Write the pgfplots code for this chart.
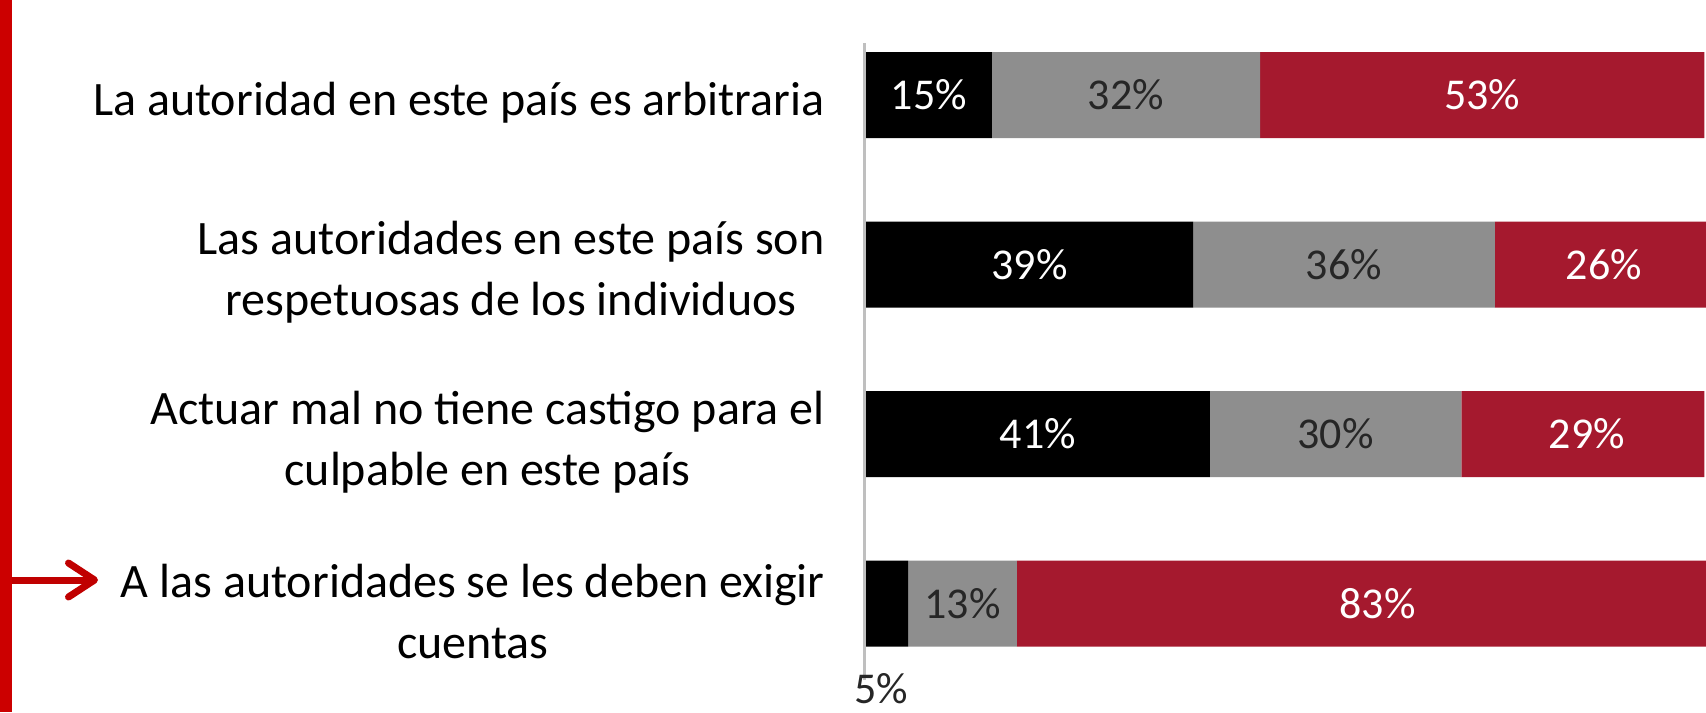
\documentclass[border=0pt]{standalone}
\usepackage{pgfplots}
\pgfplotsset{compat=1.18}
\usepackage{fontspec}
\setmainfont{Carlito}
\usetikzlibrary{arrows.meta}
\definecolor{cgray}{RGB}{142,142,142}
\definecolor{cred}{RGB}{165,25,46}
\definecolor{axgray}{RGB}{191,191,191}
\definecolor{txt}{RGB}{38,38,38}
\definecolor{leftred}{RGB}{204,0,0}
\definecolor{arrowred}{RGB}{192,0,0}
\begin{document}
\begin{tikzpicture}
\path[use as bounding box] (0,0) rectangle (853pt,356pt);
\fill[leftred] (0,0) rectangle (6pt,356pt);
\draw[arrowred, line width=3.5pt, -{Straight Barb[round, length=13pt, width=17pt]}] (6pt,66pt) -- (49pt,66pt);
\pgfplotsset{mygeom/.style={scale only axis, width=421pt, height=318.5pt, at={(432pt,16pt)}, anchor=south west, xmin=-0.25, xmax=100.2, ymin=-0.307, ymax=3.45, y dir=reverse}}
\begin{axis}[mygeom, xbar stacked, bar width=43pt,
  axis x line=none, axis y line*=left,
  y axis line style={axgray, line width=1.5pt},
  ytick={0,1,2,3},
  yticklabels={{La autoridad en este país es arbitraria},{Las autoridades en este país son\\respetuosas de los individuos},{Actuar mal no tiene castigo para el\\culpable en este país},{A las autoridades se les deben exigir\\cuentas}},
  major tick length=0pt,
  yticklabel style={align=center, inner sep=0pt, xshift=-19.5pt, yshift=-4pt, font=\fontsize{24}{30.5}\selectfont, text=black}]
\addplot[fill=black, draw=none] coordinates {(15,0) (39,1) (41,2) (5,3)};
\addplot[fill=cgray, draw=none] coordinates {(32,0) (36,1) (30,2) (13,3)};
\addplot[fill=cred, draw=none] coordinates {(53,0) (26,1) (29,2) (83,3)};
\end{axis}
\begin{axis}[mygeom, hide axis, clip=false]
\addplot[draw=none, mark=none, nodes near coords, point meta=explicit symbolic,
  nodes near coords style={anchor=center, text=white, font=\fontsize{22}{26}\selectfont}]
  coordinates {(7.5,0)[15\%] (19.5,1)[39\%] (20.5,2)[41\%]};
\addplot[draw=none, mark=none, nodes near coords, point meta=explicit symbolic,
  nodes near coords style={anchor=center, text=txt, font=\fontsize{22}{26}\selectfont}]
  coordinates {(31,0)[32\%] (57,1)[36\%] (56,2)[30\%] (11.5,3)[13\%] (1.8,3.5)[5\%]};
\addplot[draw=none, mark=none, nodes near coords, point meta=explicit symbolic,
  nodes near coords style={anchor=center, text=white, font=\fontsize{22}{26}\selectfont}]
  coordinates {(73.5,0)[53\%] (88,1)[26\%] (86,2)[29\%] (61,3)[83\%]};
\end{axis}
\end{tikzpicture}
\end{document}
